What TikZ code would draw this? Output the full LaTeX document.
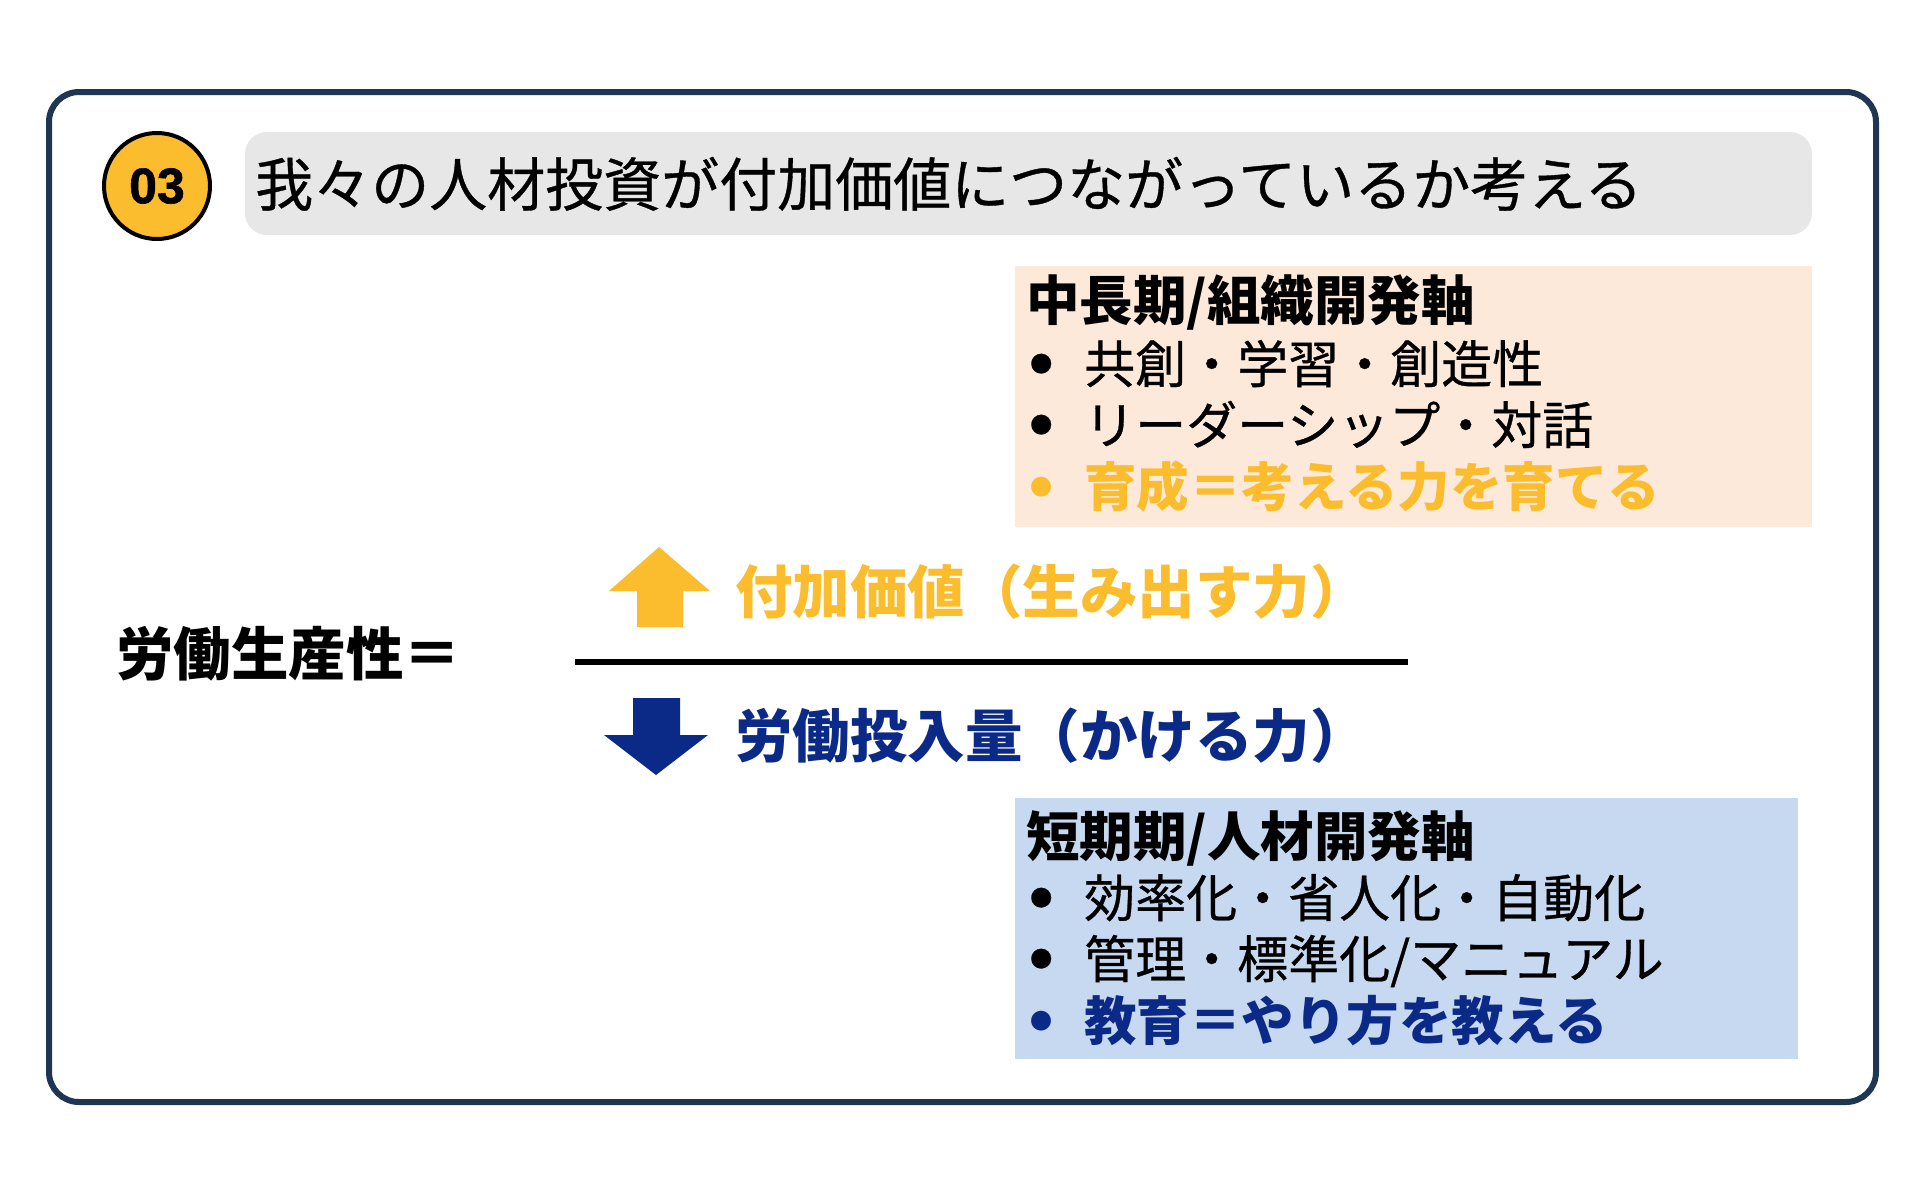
\documentclass[tikz,border=0pt]{standalone}
\usepackage{fontspec}
\setmainfont{Noto Sans CJK JP}
\newfontfamily\medfont[FakeBold=0.6]{Noto Sans CJK JP}
\newfontfamily\numfont[FakeBold=1.2]{Liberation Sans Bold}
\definecolor{framec}{HTML}{1E3652}
\definecolor{yel}{HTML}{FBBC2E}
\definecolor{navyc}{HTML}{0B2A87}
\definecolor{peach}{HTML}{FDE9DA}
\definecolor{lblue}{HTML}{C6D9F1}
\definecolor{titlegray}{HTML}{E7E7E7}
\newcommand\fsz[1]{\fontsize{#1}{#1}\selectfont}
\newcommand\bul[1]{\makebox[58pt][l]{\hspace{4pt}\raisebox{11pt}{\fsz{22}#1}}}
\tikzset{
  txt/.style={inner sep=0pt, anchor=base west},
  bline/.style={txt, font=\medfont\fsz{51}},
  head/.style={txt, font=\fsz{53.5}\bfseries},
}
\begin{document}
\begin{tikzpicture}[x=1pt,y=-1pt]
\useasboundingbox (0,0) rectangle (1920,1197);
% frame
\draw[framec, line width=6pt, rounded corners=30pt] (49,92) rectangle (1876,1102);
% number badge
\node[circle, fill=yel, draw=black, line width=4pt, minimum size=106pt, inner sep=0pt,
      font=\numfont\fsz{50}] (badge) at (157,186) {03};
% title
\fill[titlegray, rounded corners=22pt] (245,132) rectangle (1812,235);
\node[txt, font=\medfont\fsz{58}] (title) at (255,206) {我々の人材投資が付加価値につながっているか考える};
% orange box
\fill[peach] (1015,266) rectangle (1812,527);
\node[head] (h1) at (1026,320) {中長期/組織開発軸};
\node[bline] (o1) at (1026,383) {\bul{●}共創・学習・創造性};
\node[bline] (o2) at (1026,444) {\bul{●}リーダーシップ・対話};
\node[bline, text=yel, font=\fsz{52.5}\bfseries] (o3) at (1026,506) {\bul{●}育成＝考える力を育てる};
% blue box
\fill[lblue] (1015,798) rectangle (1798,1059);
\node[head] (h2) at (1026,856) {短期期/人材開発軸};
\node[bline] (b1) at (1026,917) {\bul{●}効率化・省人化・自動化};
\node[bline] (b2) at (1026,978) {\bul{●}管理・標準化/マニュアル};
\node[bline, text=navyc, font=\fsz{52.5}\bfseries] (b3) at (1026,1040) {\bul{●}教育＝やり方を教える};
% formula
\node[txt, font=\fsz{57.5}\bfseries] (lp) at (116,675) {労働生産性＝};
\draw[line width=6pt] (575,662) -- (1408,662);
\fill[yel] (659,547) -- (710,591) -- (683,591) -- (683,627) -- (637,627) -- (637,591) -- (609,591) -- cycle;
\fill[navyc] (633,698) -- (680,698) -- (680,735) -- (708,735) -- (656,775) -- (604,735) -- (633,735) -- cycle;
\node[txt, font=\fsz{57.5}\bfseries, text=yel] (num) at (735,613) {付加価値（生み出す力）};
\node[txt, font=\fsz{57.5}\bfseries, text=navyc] (den) at (735,757) {労働投入量（かける力）};
\end{tikzpicture}
\end{document}
